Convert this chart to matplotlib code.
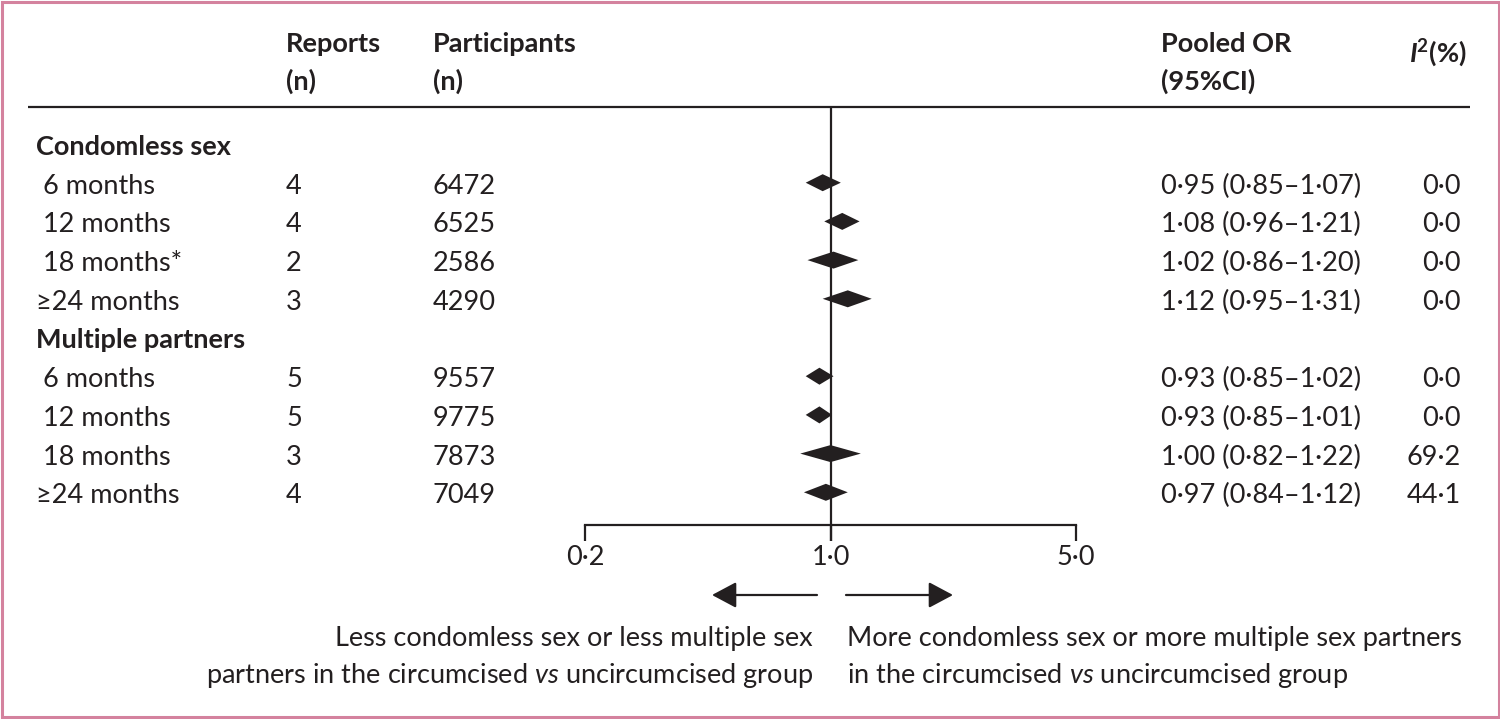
import matplotlib
matplotlib.use("Agg")
import matplotlib.pyplot as plt
from matplotlib.patches import Rectangle, FancyArrowPatch, ArrowStyle
from matplotlib.ticker import FixedLocator, FixedFormatter, NullLocator

# ---------------- data ----------------
group_names = ["Condomless sex", "Multiple partners"]
row_labels = [" 6 months", " 12 months", " 18 months*", "\u226524 months",
              " 6 months", " 12 months", " 18 months", "\u226524 months"]
row_group = [0, 0, 0, 0, 1, 1, 1, 1]
reports = [4, 4, 2, 3, 5, 5, 3, 4]
participants = [6472, 6525, 2586, 4290, 9557, 9775, 7873, 7049]
or_est = [0.95, 1.08, 1.02, 1.12, 0.93, 0.93, 1.00, 0.97]
ci_low = [0.85, 0.96, 0.86, 0.95, 0.85, 0.85, 0.82, 0.84]
ci_high = [1.07, 1.21, 1.20, 1.31, 1.02, 1.01, 1.22, 1.12]
i2_pct = [0.0, 0.0, 0.0, 0.0, 0.0, 0.0, 69.2, 44.1]
x_ticks = [0.2, 1.0, 5.0]
x_tick_labels = ["0\u00b72", "1\u00b70", "5\u00b70"]
left_note = ["Less condomless sex or less multiple sex",
             "partners in the circumcised $vs$ uncircumcised group"]
right_note = ["More condomless sex or more multiple sex partners",
              "in the circumcised $vs$ uncircumcised group"]

# ---------------- style ----------------
FAM = ["Lato", "DejaVu Sans"]
plt.rcParams["font.family"] = FAM
plt.rcParams["mathtext.fontset"] = "custom"
plt.rcParams["mathtext.it"] = "Lato:italic"
plt.rcParams["mathtext.rm"] = "Lato"
plt.rcParams["mathtext.bf"] = "Lato:bold"
plt.rcParams["mathtext.bfit"] = "Lato:italic:bold"
INK = "#231f20"
FS = 19.5
BW = "bold"
W, H = 1500, 719

def fmt(v, nd=2):
    return f"{v:.{nd}f}".replace(".", "\u00b7")

fig = plt.figure(figsize=(W / 100, H / 100), dpi=100)
fig.patch.set_facecolor("white")

# overlay table axes in pixel-like coordinates
tab = fig.add_axes([0, 0, 1, 1])
tab.set_xlim(0, W)
tab.set_ylim(H, 0)
tab.axis("off")

# forest axes (log scale)
x0_px, x1_px = 585, 1076
fax = fig.add_axes([x0_px / W, 0, (x1_px - x0_px) / W, 1])
fax.set_xscale("log")
fax.set_xlim(x_ticks[0], x_ticks[-1])
fax.set_ylim(H, 0)
fax.patch.set_alpha(0)
for s in ["top", "left", "right"]:
    fax.spines[s].set_visible(False)
axis_y = 525
fax.spines["bottom"].set_position(("data", axis_y))
fax.spines["bottom"].set_linewidth(1.6)
fax.spines["bottom"].set_color(INK)
fax.xaxis.set_major_locator(FixedLocator(x_ticks))
fax.xaxis.set_major_formatter(FixedFormatter(x_tick_labels))
fax.xaxis.set_minor_locator(NullLocator())
fax.tick_params(axis="x", direction="out", length=11.5, width=1.6, color=INK,
                labelsize=FS, labelcolor=INK, pad=3)
fax.set_yticks([])

# layout rows
row_base0 = 155.0
row_step = 38.7
group_rows = [0, 5]
data_rows = [1, 2, 3, 4, 6, 7, 8, 9]

def base_y(r):
    return row_base0 + row_step * r

# header
col_label = 36
col_rep = 286
col_part = 433
col_or = 1161
col_i2_right = 1461
hdr1, hdr2 = 52, 90
tab.text(col_rep, hdr1, "Reports", fontsize=FS, fontweight=BW, color=INK, va="baseline")
tab.text(col_rep, hdr2, "(n)", fontsize=FS, fontweight=BW, color=INK, va="baseline")
tab.text(col_part, hdr1, "Participants", fontsize=FS, fontweight=BW, color=INK, va="baseline")
tab.text(col_part, hdr2, "(n)", fontsize=FS, fontweight=BW, color=INK, va="baseline")
tab.text(col_or, hdr1, "Pooled OR", fontsize=FS, fontweight=BW, color=INK, va="baseline")
tab.text(col_or, hdr2, "(95%CI)", fontsize=FS, fontweight=BW, color=INK, va="baseline")
tab.text(1467, 62, r"$\mathbfit{I}^{\mathbf{2}}$(%)", fontsize=FS, fontweight=BW,
         color=INK, va="baseline", ha="right")
tab.plot([28, 1470], [107, 107], color=INK, lw=1.6, solid_capstyle="butt")

# group headings
for g, r in zip(group_names, group_rows):
    tab.text(col_label, base_y(r), g, fontsize=FS, fontweight=BW, color=INK, va="baseline")

# data rows
for i, r in enumerate(data_rows):
    y = base_y(r)
    tab.text(col_label, y, row_labels[i], fontsize=FS, color=INK, va="baseline")
    tab.text(col_rep, y, str(reports[i]), fontsize=FS, color=INK, va="baseline")
    tab.text(col_part, y, str(participants[i]), fontsize=FS, color=INK, va="baseline")
    tab.text(col_or, y, f"{fmt(or_est[i])} ({fmt(ci_low[i])}\u2013{fmt(ci_high[i])})",
             fontsize=FS, color=INK, va="baseline")
    tab.text(col_i2_right, y, fmt(i2_pct[i], 1), fontsize=FS, color=INK,
             va="baseline", ha="right")
    yc = y - 11
    hh = 8.5
    fax.fill([ci_low[i], or_est[i], ci_high[i], or_est[i]],
             [yc, yc - hh, yc, yc + hh], color=INK, lw=0, zorder=3)

# reference line at OR = 1
fax.plot([1, 1], [107, axis_y + 16], color=INK, lw=1.6, solid_capstyle="butt",
         clip_on=False, zorder=2)

# direction arrows
arr_y = 595
style = ArrowStyle("-|>", head_length=15, head_width=8)
for (xa, xb) in [(817, 712), (846, 953)]:
    tab.add_patch(FancyArrowPatch((xa, arr_y), (xb, arr_y), arrowstyle=style,
                                  mutation_scale=1, lw=1.6, color=INK,
                                  shrinkA=0, shrinkB=0))

# bottom notes
for k, (ltxt, rtxt) in enumerate(zip(left_note, right_note)):
    yb = 646 + 37 * k
    tab.text(813, yb, ltxt, fontsize=FS, color=INK, va="baseline", ha="right")
    tab.text(847, yb, rtxt, fontsize=FS, color=INK, va="baseline", ha="left")

# pink frame
fig.patches.append(Rectangle((1.5 / W, 2.5 / H), (W - 3) / W, (H - 4) / H,
                             transform=fig.transFigure, fill=False,
                             edgecolor="#d4829e", lw=2.2))

fig.savefig("out.png", dpi=100)
